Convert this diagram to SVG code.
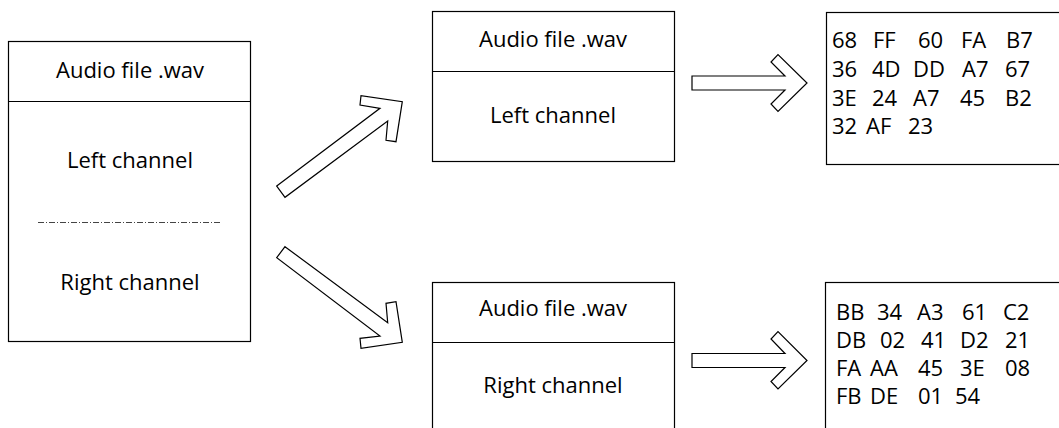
<svg xmlns="http://www.w3.org/2000/svg" width="1059" height="428" viewBox="0 0 1059 428">
<style>
.box{fill:#fff;stroke:#000;stroke-width:1.2}
.ln{stroke:#000;stroke-width:1.2}
.arr{fill:#fff;stroke:#000;stroke-width:1.2;stroke-linejoin:miter}
.t{font-family:"Open Sans","Liberation Sans",sans-serif;font-size:22px;fill:#000}
.c{text-anchor:middle}
</style>
<rect width="1059" height="428" fill="#fff"/>
<g id="source">
<rect class="box" x="8.5" y="41.5" width="242" height="300"/>
<line class="ln" x1="8.5" y1="101.5" x2="250.5" y2="101.5"/>
<text class="t c" x="130" y="78">Audio file .wav</text>
<text class="t c" x="130" y="168">Left channel</text>
<line x1="38" y1="222.5" x2="222" y2="222.5" stroke="#444" stroke-width="1" stroke-dasharray="6 2 1 2"/>
<text class="t c" x="130" y="290">Right channel</text>
</g>
<g id="left-file">
<rect class="box" x="432.5" y="11.5" width="242" height="150"/>
<line class="ln" x1="432.5" y1="71.5" x2="674.5" y2="71.5"/>
<text class="t c" x="553" y="47">Audio file .wav</text>
<text class="t c" x="553" y="123">Left channel</text>
</g>
<g id="right-file">
<rect class="box" x="432.5" y="282.5" width="242" height="160"/>
<line class="ln" x1="432.5" y1="342.5" x2="674.5" y2="342.5"/>
<text class="t c" x="553" y="316">Audio file .wav</text>
<text class="t c" x="553" y="393">Right channel</text>
</g>
<g id="left-hex">
<rect class="box" x="826.5" y="12.5" width="250" height="152"/>
<text class="t" y="48"><tspan x="832">68</tspan><tspan x="873">FF</tspan><tspan x="918">60</tspan><tspan x="961">FA</tspan><tspan x="1006">B7</tspan></text>
<text class="t" y="77"><tspan x="832">36</tspan><tspan x="872">4D</tspan><tspan x="913">DD</tspan><tspan x="962">A7</tspan><tspan x="1005">67</tspan></text>
<text class="t" y="106"><tspan x="832">3E</tspan><tspan x="872">24</tspan><tspan x="913">A7</tspan><tspan x="960">45</tspan><tspan x="1005">B2</tspan></text>
<text class="t" y="134"><tspan x="832">32</tspan><tspan x="866">AF</tspan><tspan x="908">23</tspan></text>
</g>
<g id="right-hex">
<rect class="box" x="825.5" y="282.5" width="250" height="160"/>
<text class="t" y="320"><tspan x="836">BB</tspan><tspan x="877">34</tspan><tspan x="917">A3</tspan><tspan x="962">61</tspan><tspan x="1003">C2</tspan></text>
<text class="t" y="348"><tspan x="836">DB</tspan><tspan x="880">02</tspan><tspan x="921">41</tspan><tspan x="960">D2</tspan><tspan x="1005">21</tspan></text>
<text class="t" y="376"><tspan x="836">FA</tspan><tspan x="870">AA</tspan><tspan x="918">45</tspan><tspan x="960">3E</tspan><tspan x="1005">08</tspan></text>
<text class="t" y="404"><tspan x="836">FB</tspan><tspan x="870">DE</tspan><tspan x="918">01</tspan><tspan x="955">54</tspan></text>
</g>
<g id="connectors">
<polygon class="arr" points="276.7,186 380,108.3 360,105 361,95.7 402.3,101.7 396,141.7 386,140.3 387.7,121 285,197.3"/>
<polygon class="arr" points="285,246.7 387.7,322.7 386,303.3 396,301.7 402.3,342.3 361,348.3 360,338.3 380,336 276.7,257.7"/>
<polygon class="arr" points="692,76 785,76 771,62 778,54.5 807,83 778,111.5 771,104 785,90 692,90"/>
<polygon class="arr" points="692,353.5 785,353.5 771,339 778,331.5 807,360.5 778,389 771,381.5 785,367.5 692,367.5"/>
</g>
</svg>
